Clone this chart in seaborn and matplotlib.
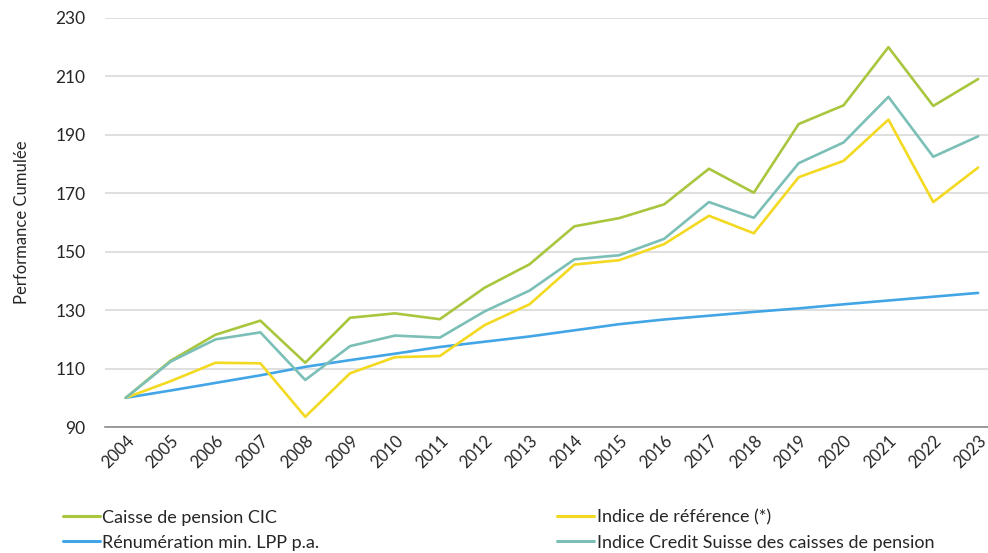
#importing libraries
import pandas as pd
import numpy as np
import seaborn as sns
import matplotlib.pyplot as plt

#data
years = list(range(2004, 2024))
cic = [100, 112.7, 121.6, 126.4, 112.0, 127.4, 128.9, 126.9, 137.7, 145.7,
       158.7, 161.5, 166.2, 178.4, 170.2, 193.7, 200.1, 220.0, 199.9, 209.1]
reference = [100, 105.7, 112.0, 111.8, 93.5, 108.4, 113.9, 114.3, 124.9, 132.0,
             145.6, 147.1, 152.6, 162.3, 156.3, 175.5, 181.1, 195.2, 167.0, 178.8]
lpp = [100, 102.5, 105.1, 107.7, 110.6, 112.9, 115.1, 117.4, 119.2, 121.0,
       123.1, 125.2, 126.8, 128.1, 129.4, 130.6, 132.0, 133.3, 134.6, 135.9]
cs_index = [100, 112.4, 120.0, 122.4, 106.1, 117.7, 121.3, 120.6, 129.6, 136.7,
            147.4, 148.8, 154.4, 167.0, 161.6, 180.3, 187.4, 203.0, 182.5, 189.5]

names = ["Caisse de pension CIC", "Rénumération min. LPP p.a.",
         "Indice de référence (*)", "Indice Credit Suisse des caisses de pension"]
colors = ["#A8C63E", "#42A6E6", "#F3D920", "#7BBFB7"]
y_ticks = [90, 110, 130, 150, 170, 190, 210, 230]

#long form table for seaborn
df = pd.DataFrame({
    "Année": years * 4,
    "Valeur": cic + lpp + reference + cs_index,
    "Série": [names[0]] * 20 + [names[1]] * 20 + [names[2]] * 20 + [names[3]] * 20,
})

sns.set_style("white")
plt.rcParams['font.family'] = ['Lato', 'DejaVu Sans']

fig = plt.figure(figsize=(9.88, 5.53), dpi=100)
ax = fig.add_axes([0.106, 0.2278, 0.894, 0.7397])

sns.lineplot(data=df, x="Année", y="Valeur", hue="Série", hue_order=names,
             palette=colors, linewidth=1.9, ax=ax, legend=False)

ax.set_ylim(90, 230)
ax.set_yticks(y_ticks)
ax.set_xlim(2003.53, 2023.22)
ax.set_xticks(years)
ax.set_xticklabels([str(y) for y in years], rotation=45, ha='right',
                   rotation_mode='anchor', fontsize=12)
ax.tick_params(axis='y', labelsize=12.5, length=0, pad=14)
ax.tick_params(axis='x', length=0, pad=4)
ax.grid(axis='y', color='#d9d9d9', linewidth=1.2)
ax.set_axisbelow(True)
for s in ['top', 'right', 'left']:
    ax.spines[s].set_visible(False)
ax.spines['bottom'].set_color('#8c8c8c')
ax.spines['bottom'].set_linewidth(1.2)
ax.set_xlabel("")
ax.set_ylabel("Performance Cumulée", fontsize=12, labelpad=18)

#legend at the bottom in two columns
handles = [plt.Line2D([], [], color=c, linewidth=2.2) for c in colors]
fig.legend(handles, names, loc='lower left', bbox_to_anchor=(0.047, -0.025),
           ncol=2, frameon=False, fontsize=13, handlelength=2.05,
           handletextpad=0.12, columnspacing=13.2, labelspacing=0.5)

fig.savefig("out.png", dpi=100)
